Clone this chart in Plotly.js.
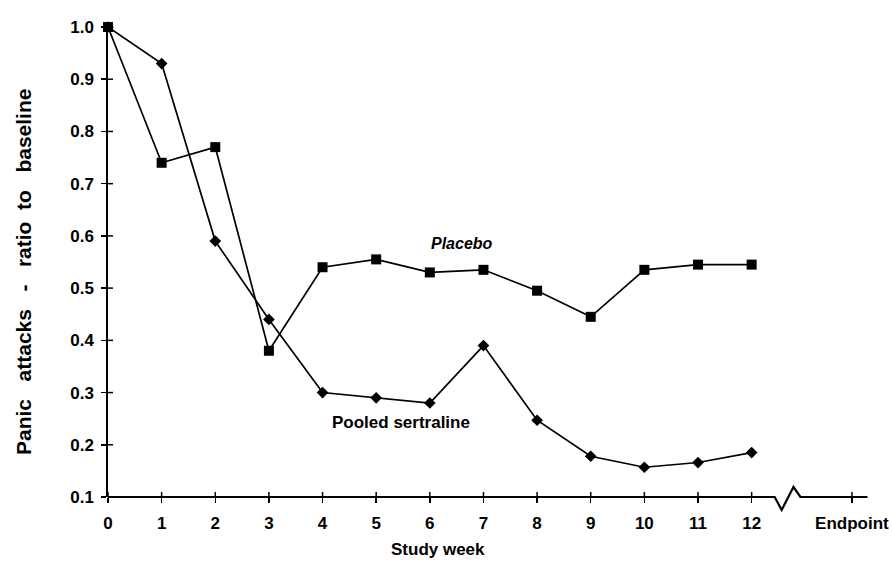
<!DOCTYPE html>
<html>
<head>
<meta charset="utf-8">
<script src="https://cdn.plot.ly/plotly-3.0.1.min.js"></script>
<style>html,body{margin:0;padding:0;background:#fff;}</style>
</head>
<body>
<div id="chart" style="width:892px;height:562px;"></div>
<script>
var weeks = [0,1,2,3,4,5,6,7,8,9,10,11,12];
var placebo = [1.0,0.74,0.77,0.38,0.54,0.555,0.53,0.535,0.495,0.445,0.535,0.545,0.545];
var sertraline = [1.0,0.93,0.59,0.44,0.30,0.29,0.28,0.39,0.247,0.178,0.157,0.166,0.185];
var xTickVals = [0,1,2,3,4,5,6,7,8,9,10,11,12,13.87];
var xTickText = ['0','1','2','3','4','5','6','7','8','9','10','11','12','Endpoint'];
var yTickVals = [0.1,0.2,0.3,0.4,0.5,0.6,0.7,0.8,0.9,1.0];
var yTickText = ['0.1','0.2','0.3','0.4','0.5','0.6','0.7','0.8','0.9','1.0'];

var font = 'Liberation Sans, Arial, sans-serif';
var W = 892, H = 562, ML = 108, MR = 17, MT = 27, MB = 65;
var pw = W - ML - MR, ph = H - MT - MB;

var traces = [
  {x: weeks, y: sertraline, mode: 'lines+markers', name: 'Pooled sertraline',
   line: {color: '#000', width: 1.7},
   marker: {symbol: 'diamond', size: 9, color: '#000'}, cliponaxis: false},
  {x: weeks, y: placebo, mode: 'lines+markers', name: 'Placebo',
   line: {color: '#000', width: 1.7},
   marker: {symbol: 'square', size: 10, color: '#000'}, cliponaxis: false}
];

var shapes = [];
// x axis line with axis break (zigzag) before Endpoint
var lo = -13 / ph, hi = 10 / ph;
shapes.push({type: 'path', xref: 'x', yref: 'paper',
  path: 'M0,0 L12.43,0 L12.56,' + lo + ' L12.78,' + hi + ' L12.91,0 L14.16,0',
  line: {color: '#000', width: 2.2}});
// inside halves of the crossing x ticks
xTickVals.forEach(function(v){
  shapes.push({type: 'line', xref: 'x', yref: 'paper', x0: v, x1: v, y0: 0, y1: 5 / ph,
    line: {color: '#000', width: 1.5}});
});
// inside halves of the crossing y ticks
yTickVals.forEach(function(v){
  shapes.push({type: 'line', xref: 'paper', yref: 'y', x0: 0, x1: 5 / pw, y0: v, y1: v,
    line: {color: '#000', width: 1.5}});
});

var nb = '\u00a0';
function sp(n){ return new Array(n + 1).join(nb); }
var yTitle = 'Panic' + sp(3) + 'attacks' + sp(3) + '-' + sp(3) + 'ratio' + sp(2) + 'to' + sp(3) + 'baseline';

var layout = {
  width: W, height: H,
  margin: {l: ML, r: MR, t: MT, b: MB},
  paper_bgcolor: '#fff', plot_bgcolor: '#fff',
  showlegend: false,
  font: {family: font, color: '#000'},
  xaxis: {range: [0, 14.3], showgrid: false, zeroline: false, showline: false,
    tickmode: 'array', tickvals: xTickVals, ticktext: xTickText,
    ticks: 'outside', ticklen: 5, tickwidth: 1.5, tickcolor: '#000',
    ticklabelstandoff: 6,
    tickfont: {family: font, size: 17, color: '#000', weight: 'bold'}},
  yaxis: {range: [0.1, 1.0], showgrid: false, zeroline: false, showline: true,
    linecolor: '#000', linewidth: 1.6,
    tickmode: 'array', tickvals: yTickVals, ticktext: yTickText,
    ticks: 'outside', ticklen: 5, tickwidth: 1.5, tickcolor: '#000',
    ticklabelstandoff: 4,
    tickfont: {family: font, size: 17, color: '#000', weight: 'bold'}},
  shapes: shapes,
  annotations: [
    {text: '<b><i>Placebo</i></b>', x: 6.6, y: 0.585, xref: 'x', yref: 'y', showarrow: false,
     font: {family: font, size: 16, color: '#000'}},
    {text: '<b>Pooled sertraline</b>', x: 5.46, y: 0.242, xref: 'x', yref: 'y', showarrow: false,
     font: {family: font, size: 17, color: '#000'}},
    {text: '<b>Study week</b>', xref: 'paper', yref: 'paper', showarrow: false,
     x: (438 - ML) / pw, y: (H - MB - 549) / ph, xanchor: 'center', yanchor: 'middle',
     font: {family: font, size: 17, color: '#000'}},
    {text: '<b>' + yTitle + '</b>', textangle: -90, showarrow: false,
     xref: 'paper', yref: 'paper', x: (23 - ML) / pw, y: (H - MB - 272) / ph,
     xanchor: 'center', yanchor: 'middle',
     font: {family: font, size: 21, color: '#000'}}
  ]
};

Plotly.newPlot('chart', traces, layout, {displayModeBar: false, staticPlot: true});
</script>
</body>
</html>
